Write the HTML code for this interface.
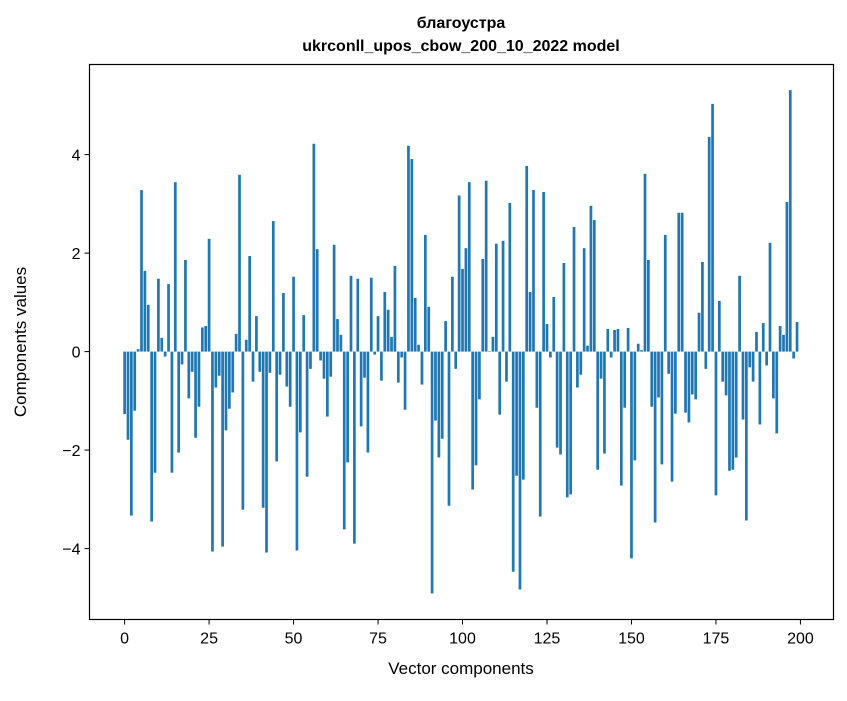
<!DOCTYPE html>
<html><head><meta charset="utf-8"><style>
body{margin:0;background:#fff;font-family:"Liberation Sans","DejaVu Sans",sans-serif}
svg text{font-family:"Liberation Sans","DejaVu Sans",sans-serif;fill:#000}
</style></head><body>
<svg id="chart" width="847" height="696" xmlns="http://www.w3.org/2000/svg">
<rect width="847" height="696" fill="#fff"/>
<text x="461" y="28" text-anchor="middle" font-size="16" font-weight="bold">благоустра</text>
<text x="461" y="51" text-anchor="middle" font-size="16" font-weight="bold">ukrconll_upos_cbow_200_10_2022 model</text>
<g id="bars"></g>
<rect x="89.5" y="64.5" width="744" height="555" fill="none" stroke="#000" stroke-width="1.2"/>
<g id="xticks"></g>
<g id="yticks"></g>
<text x="461" y="674" text-anchor="middle" font-size="17">Vector components</text>
<text transform="translate(26,342) rotate(-90)" text-anchor="middle" font-size="17">Components values</text>
</svg>
<script>
const values = [-1.27,-1.79,-3.33,-1.2,0.05,3.28,1.64,0.95,-3.45,-2.46,1.48,0.28,-0.1,1.37,-2.46,3.44,-2.05,-0.26,1.86,-0.95,
-0.41,-1.75,-1.12,0.49,0.52,2.29,-4.06,-0.73,-0.49,-3.96,-1.6,-1.16,-0.83,0.36,3.59,-3.21,0.24,1.94,-0.61,0.72,
-0.41,-3.17,-4.08,-0.43,2.65,-2.23,-0.47,1.19,-0.71,-1.12,1.52,-4.04,-1.64,0.74,-2.54,-0.35,4.22,2.08,-0.18,-0.55,
-1.32,-0.51,2.17,0.66,0.34,-3.61,-2.25,1.54,-3.9,1.48,-1.52,-0.53,-2.05,1.5,-0.06,0.72,-0.59,1.21,0.85,0.3,
1.74,-0.63,-0.12,-1.18,4.18,3.91,1.09,0.14,-0.67,2.37,0.91,-4.91,-1.4,-2.15,-1.77,0.62,-3.13,1.52,-0.35,3.17,
1.68,2.1,3.44,-2.8,-2.31,-0.97,1.88,3.47,0.01,0.3,2.19,-1.28,2.25,-0.61,3.02,-4.47,-2.52,-4.83,-2.6,3.77,
1.21,3.28,-1.14,-3.35,3.24,0.56,-0.12,1.11,-1.95,-2.09,1.8,-2.96,-2.9,2.53,-0.73,-0.47,2.1,0.12,2.96,2.67,
-2.4,-0.55,-2.07,0.46,-0.12,0.44,0.46,-2.72,-1.14,0.48,-4.2,-2.21,0.16,0.03,3.61,1.86,-1.12,-3.47,-0.93,-2.29,
2.37,-0.45,-2.64,-1.26,2.82,2.82,-1.24,-1.44,-0.87,-0.97,0.79,1.82,-0.35,4.36,5.03,-2.92,1.03,-0.61,-0.89,-2.42,
-2.4,-2.15,1.54,-1.38,-3.43,-0.32,-0.61,0.4,-1.48,0.58,-0.28,2.21,-0.95,-1.66,0.52,0.34,3.04,5.31,-0.14,0.6];
const xTicks = [0,25,50,75,100,125,150,175,200];
const yTicks = [-4,-2,0,2,4];
const NS="http://www.w3.org/2000/svg";
const xMin=-10.39,xMax=209.79,yMin=-5.44,yMax=5.83;
const L=89.5,R=833.5,T=64.5,B=619.5;
function sx(v){return L+(v-xMin)/(xMax-xMin)*(R-L);}
function sy(v){return B-(v-yMin)/(yMax-yMin)*(B-T);}
const gb=document.getElementById('bars');
values.forEach((v,i)=>{
  const r=document.createElementNS(NS,'rect');
  const x0=sx(i-0.4),x1=sx(i+0.4);
  const y0=sy(Math.max(v,0)),y1=sy(Math.min(v,0));
  r.setAttribute('x',x0);r.setAttribute('width',x1-x0);
  r.setAttribute('y',y0);r.setAttribute('height',Math.max(y1-y0,0.3));
  r.setAttribute('fill','#1f77b4');
  
  
  gb.appendChild(r);
});
const gx=document.getElementById('xticks');
xTicks.forEach(t=>{
  const x=sx(t);
  const l=document.createElementNS(NS,'line');
  l.setAttribute('x1',x);l.setAttribute('x2',x);l.setAttribute('y1',B);l.setAttribute('y2',B+5);
  l.setAttribute('stroke','#000');
  
  
  gx.appendChild(l);
  const tx=document.createElementNS(NS,'text');
  tx.setAttribute('x',x);tx.setAttribute('y',B+24);tx.setAttribute('text-anchor','middle');tx.setAttribute('font-size','16');
  tx.textContent=t;
  
  
  gx.appendChild(tx);
});
const gy=document.getElementById('yticks');
yTicks.forEach(t=>{
  const y=sy(t);
  const l=document.createElementNS(NS,'line');
  l.setAttribute('x1',L-5);l.setAttribute('x2',L);l.setAttribute('y1',y);l.setAttribute('y2',y);
  l.setAttribute('stroke','#000');
  
  
  gy.appendChild(l);
  const tx=document.createElementNS(NS,'text');
  tx.setAttribute('x',L-9);tx.setAttribute('y',y+6);tx.setAttribute('text-anchor','end');tx.setAttribute('font-size','16');
  tx.textContent=(t<0?'\u2212':'')+Math.abs(t);
  
  
  gy.appendChild(tx);
});
</script>
</body></html>
